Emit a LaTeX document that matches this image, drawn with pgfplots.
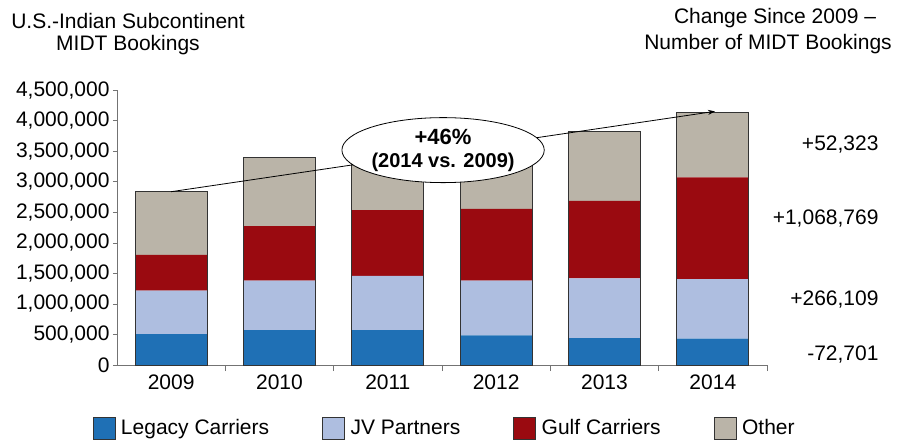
\documentclass[border=0pt]{standalone}
\usepackage{fontspec}
\setmainfont{Liberation Sans}
\usepackage{pgfplots}
\pgfplotsset{compat=1.18}
\usetikzlibrary{shapes.geometric,arrows.meta}
\definecolor{legacy}{HTML}{1F70B5}
\definecolor{jv}{HTML}{AEBEE0}
\definecolor{gulf}{HTML}{9A0A10}
\definecolor{other}{HTML}{BAB4A8}
\newcommand{\f}{\fontsize{21bp}{25bp}\selectfont}
\begin{document}
\begin{tikzpicture}[font=\f]
\path[use as bounding box] (0,0) rectangle (898bp,441bp);
\pgfplotsset{base/.style={
  scale only axis, width=650bp, height=274.7bp,
  at={(117bp,76bp)}, anchor=south west,
  xmin=-0.5, xmax=5.5, ymin=0, ymax=4500000,
  bar width=0.665,
}}
\begin{axis}[base,
  ybar stacked,
  axis y line*=left, axis x line*=bottom,
  axis line style={draw=black!55, line width=0.8bp},
  tick align=outside, major tick length=4bp, minor tick length=6bp,
  xtick={0,...,5}, xticklabels={2009,2010,2011,2012,2013,2014},
  x tick style={draw=none},
  minor xtick={0.5,1.5,2.5,3.5,4.5,5.5},
  minor x tick style={draw=black!55, line width=0.8bp},
  y tick style={draw=black!55, line width=0.8bp},
  ytick={0,500000,...,4500000},
  scaled y ticks=false,
  yticklabel style={/pgf/number format/.cd, fixed, 1000 sep={,}, assume math mode=true},
  tick label style={font=\f},
  xticklabel style={yshift=-2bp},
  legend columns=4,
  legend style={draw=none, font=\f, at={(0.504,-0.229)}, anchor=center,
    /tikz/every even column/.append style={column sep=51bp}},
  legend image code/.code={\draw[#1, draw=black!80, line width=0.8bp] (0bp,-11bp) rectangle (22bp,11bp); \path (26bp,0bp);},
]
\addplot[fill=legacy, draw=none] coordinates {(0,505000) (1,573000) (2,573000) (3,486000) (4,442000) (5,432000)};
\addplot[fill=jv, draw=none] coordinates {(0,712000) (1,808000) (2,885000) (3,895000) (4,978000) (5,976000)};
\addplot[fill=gulf, draw=none] coordinates {(0,585000) (1,896000) (2,1081000) (3,1175000) (4,1267000) (5,1665000)};
\addplot[fill=other, draw=none] coordinates {(0,1037000) (1,1120000) (2,880000) (3,915000) (4,1135000) (5,1070000)};
\legend{Legacy Carriers, JV Partners, Gulf Carriers, Other}
\end{axis}
\begin{axis}[base, hide axis, clip=false, ybar, bar shift=0pt]
\addplot[fill=none, draw=black!80, line width=0.8bp] coordinates {(0,2839000) (1,3397000) (2,3419000) (3,3471000) (4,3822000) (5,4143000)};
\draw[-{Stealth[length=7bp,width=5bp]}, line width=0.8bp] (axis cs:0,2839000) -- (axis cs:5.02,4155000);
\node[ellipse, draw=black, line width=0.8bp, fill=white, minimum width=187bp, minimum height=65bp, inner sep=0pt, align=center, font=\bfseries\fontsize{20bp}{23bp}\selectfont]
  at (axis cs:2.51,3520000) {{\fontsize{22bp}{24bp}\selectfont +46\%}\\[0bp]{\fontsize{20bp}{23bp}\selectfont (2014 vs. 2009)}};
\end{axis}
\node at (128bp,420bp) {U.S.-Indian Subcontinent};
\node at (128bp,396bp) {MIDT Bookings};
\node at (775bp,423bp) {Change Since 2009 --};
\node at (768bp,397bp) {Number of MIDT Bookings};
\node[anchor=east] at (882bp,296bp) {+52,323};
\node[anchor=east] at (882bp,222bp) {+1,068,769};
\node[anchor=east] at (882bp,141bp) {+266,109};
\node[anchor=east] at (882bp,86bp) {-72,701};
\end{tikzpicture}
\end{document}
